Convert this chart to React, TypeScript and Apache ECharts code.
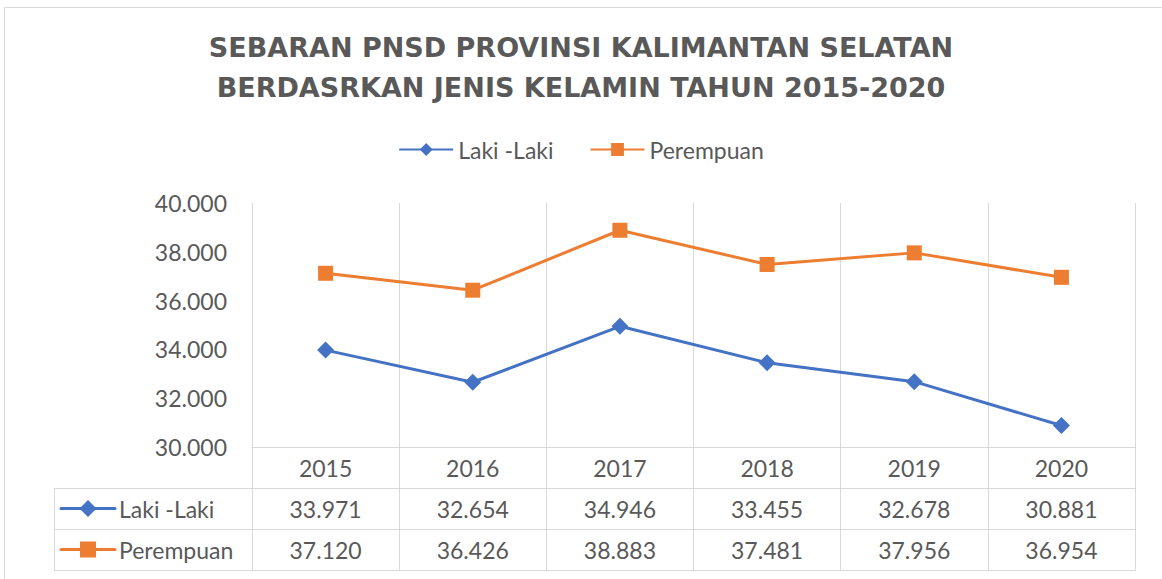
import React, { useEffect, useRef } from "react";
import * as echarts from "echarts";

const titleLines = [
  "SEBARAN PNSD PROVINSI KALIMANTAN SELATAN",
  "BERDASRKAN JENIS KELAMIN TAHUN 2015-2020",
];
const years = ["2015", "2016", "2017", "2018", "2019", "2020"];
const seriesNames = ["Laki -Laki", "Perempuan"];
const lakiLaki = [33971, 32654, 34946, 33455, 32678, 30881];
const perempuan = [37120, 36426, 38883, 37481, 37956, 36954];
const yMin = 30000;
const yMax = 40000;
const yInterval = 2000;

const BLUE = "#4472C4";
const ORANGE = "#ED7D31";
const TEXT = "#595959";
const GRID = "#d9d9d9";
const FONT = "Lato, 'Open Sans', sans-serif";

const fmt = (v: number) =>
  Math.round(v)
    .toString()
    .replace(/\B(?=(\d{3})+(?!\d))/g, ".");

// layout
const W = 1162;
const H = 579;
const GL = 252;
const GR = 1135;
const GT = 203;
const GB = 447;
const ROW = 41;
const TABLE_L = 54;

export default function App() {
  const ref = useRef<HTMLDivElement>(null);
  useEffect(() => {
    if (!ref.current) return;
    const chart = echarts.init(ref.current, undefined, { renderer: "svg" });
    const r1 = GB + ROW;
    const r2 = GB + 2 * ROW;
    const r3 = GB + 3 * ROW;
    const c1 = (r1 + r2) / 2;
    const c2 = (r2 + r3) / 2;
    const lineStyle = { stroke: GRID, lineWidth: 1 };
    const keyX1 = 61;
    const keyX2 = 115;
    const keyMid = 88;

    const extraAxis = (vals: number[], idx: number) => ({
      type: "category",
      data: vals.map(fmt),
      position: "bottom",
      offset: ROW * idx,
      boundaryGap: true,
      axisLine: { show: true, lineStyle: { color: GRID, width: 1 } },
      axisTick: { show: true, length: ROW, interval: 0, lineStyle: { color: GRID } },
      splitLine: { show: false },
      axisLabel: { interval: 0, margin: 9, fontSize: 23, color: TEXT, fontFamily: FONT },
    });

    chart.setOption({
      animation: false,
      backgroundColor: "#ffffff",
      title: {
        text: titleLines.join("\n"),
        left: "center",
        top: 22,
        textStyle: {
          fontFamily: "'DejaVu Sans', sans-serif",
          fontWeight: "bold",
          fontSize: 27,
          lineHeight: 40,
          color: TEXT,
        },
      },
      legend: {
        top: 133,
        left: "center",
        itemWidth: 54,
        itemHeight: 16,
        itemGap: 36,
        textStyle: { fontSize: 23, color: TEXT, fontFamily: FONT },
        data: seriesNames,
      },
      grid: { left: GL, right: W - GR, top: GT, bottom: H - GB, containLabel: false },
      xAxis: [
        {
          type: "category",
          data: years,
          boundaryGap: true,
          axisLine: { show: true, lineStyle: { color: GRID, width: 1 } },
          axisTick: { show: true, length: ROW, interval: 0, lineStyle: { color: GRID } },
          splitLine: { show: true, interval: 0, lineStyle: { color: GRID, width: 1 } },
          axisLabel: { interval: 0, margin: 9, fontSize: 23, color: TEXT, fontFamily: FONT },
        },
        extraAxis(lakiLaki, 1),
        extraAxis(perempuan, 2),
      ],
      yAxis: {
        type: "value",
        min: yMin,
        max: yMax,
        interval: yInterval,
        axisLine: { show: false },
        axisTick: { show: false },
        splitLine: { show: false },
        axisLabel: {
          margin: 25,
          fontSize: 23,
          color: TEXT,
          fontFamily: FONT,
          formatter: (v: number) => fmt(v),
        },
      },
      series: [
        {
          name: seriesNames[0],
          type: "line",
          data: lakiLaki,
          xAxisIndex: 0,
          symbol: "diamond",
          symbolSize: 17,
          lineStyle: { color: BLUE, width: 3 },
          itemStyle: { color: BLUE },
        },
        {
          name: seriesNames[1],
          type: "line",
          data: perempuan,
          xAxisIndex: 0,
          symbol: "rect",
          symbolSize: 15,
          lineStyle: { color: ORANGE, width: 3 },
          itemStyle: { color: ORANGE },
        },
      ],
      graphic: [
        {
          type: "rect",
          silent: true,
          shape: { x: 4.5, y: 7.5, width: 1170, height: 600 },
          style: { fill: "none", stroke: GRID, lineWidth: 1 },
        },
        { type: "line", shape: { x1: TABLE_L, y1: r1 + 0.5, x2: GL, y2: r1 + 0.5 }, style: lineStyle },
        { type: "line", shape: { x1: TABLE_L, y1: r2 + 0.5, x2: GL, y2: r2 + 0.5 }, style: lineStyle },
        { type: "line", shape: { x1: TABLE_L, y1: r3 + 0.5, x2: GR + 0.5, y2: r3 + 0.5 }, style: lineStyle },
        { type: "line", shape: { x1: TABLE_L + 0.5, y1: r1, x2: TABLE_L + 0.5, y2: r3 }, style: lineStyle },
        { type: "line", shape: { x1: GL + 0.5, y1: r1, x2: GL + 0.5, y2: r3 }, style: lineStyle },
        // legend keys in table
        { type: "line", shape: { x1: keyX1, y1: c1, x2: keyX2, y2: c1 }, style: { stroke: BLUE, lineWidth: 3, lineCap: "round" } },
        {
          type: "polygon",
          shape: { points: [[keyMid, c1 - 8.5], [keyMid + 8.5, c1], [keyMid, c1 + 8.5], [keyMid - 8.5, c1]] },
          style: { fill: BLUE },
        },
        { type: "line", shape: { x1: keyX1, y1: c2, x2: keyX2, y2: c2 }, style: { stroke: ORANGE, lineWidth: 3, lineCap: "round" } },
        {
          type: "rect",
          shape: { x: keyMid - 8, y: c2 - 8, width: 16, height: 16 },
          style: { fill: ORANGE },
        },
        {
          type: "text",
          x: 119,
          y: c1,
          style: { text: seriesNames[0], fill: TEXT, fontSize: 23, fontFamily: FONT, verticalAlign: "middle" },
        },
        {
          type: "text",
          x: 119,
          y: c2,
          style: { text: seriesNames[1], fill: TEXT, fontSize: 23, fontFamily: FONT, verticalAlign: "middle" },
        },
      ],
    });
    return () => chart.dispose();
  }, []);
  return (
    <div
      ref={ref}
      style={{ position: "fixed", left: 0, top: 0, width: W, height: H }}
    />
  );
}
